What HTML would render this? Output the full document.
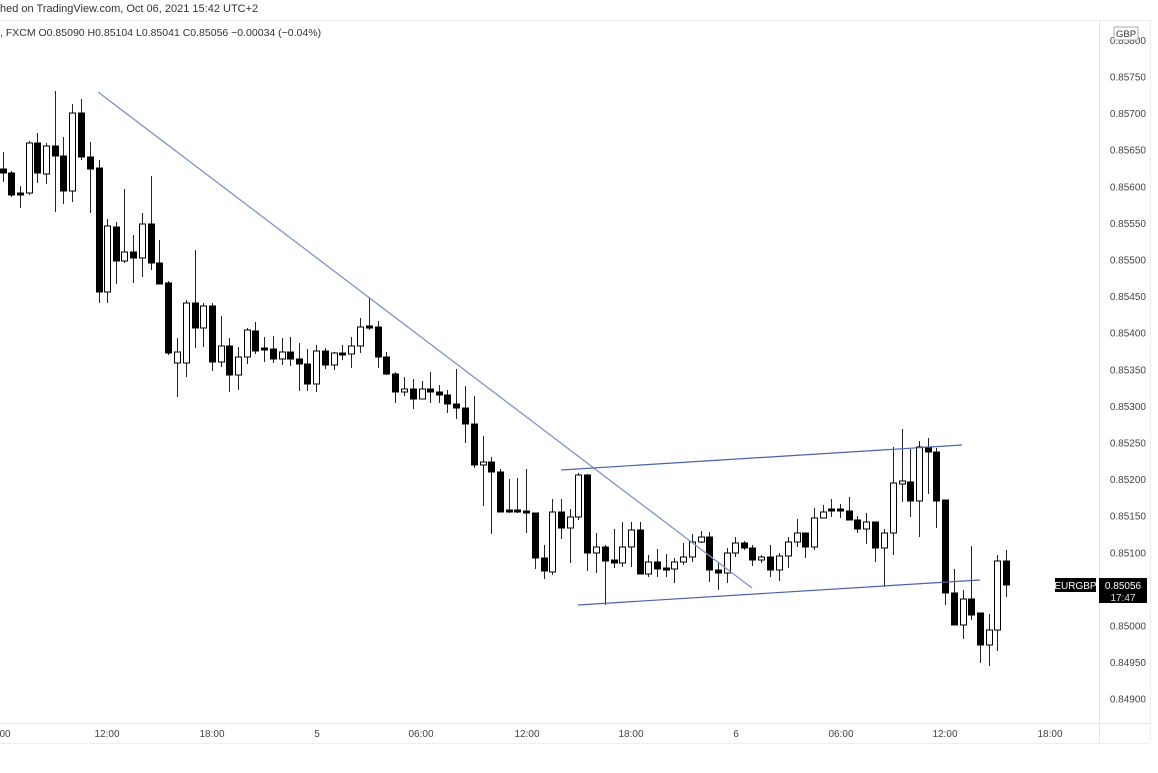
<!DOCTYPE html>
<html><head><meta charset="utf-8"><style>
html,body{margin:0;padding:0;background:#fff;}
body{width:1158px;height:773px;overflow:hidden;position:relative;font-family:"Liberation Sans","DejaVu Sans",sans-serif;}
svg{position:absolute;left:0;top:0;}
text{font-family:"Liberation Sans","DejaVu Sans",sans-serif;}
</style></head><body>
<svg id="s" width="1158" height="773" viewBox="0 0 1158 773" xmlns="http://www.w3.org/2000/svg">
<text x="0" y="12" font-size="11" fill="#333">hed on TradingView.com, Oct 06, 2021 15:42 UTC+2</text>
<line x1="0" y1="20.5" x2="1150" y2="20.5" stroke="#eee"/>
<text x="0" y="36" font-size="10.5" fill="#333">, FXCM  O0.85090  H0.85104  L0.85041  C0.85056  −0.00034 (−0.04%)</text>
<line x1="1099.5" y1="20" x2="1099.5" y2="743" stroke="#e6e6e6"/>
<line x1="1150.5" y1="20" x2="1150.5" y2="743" stroke="#eee"/>
<line x1="0" y1="723.5" x2="1150" y2="723.5" stroke="#e6e6e6"/>
<line x1="0" y1="743.5" x2="1150" y2="743.5" stroke="#eee"/>
<g id="ax" font-size="10" fill="#444"></g>
<g id="c"></g>
<line x1="98" y1="92" x2="752" y2="588" stroke="#7f93c8" stroke-width="1.3"/>
<line x1="561" y1="470" x2="962" y2="445" stroke="#4a62b0" stroke-width="1.2"/>
<line x1="578" y1="605" x2="980" y2="580" stroke="#4a62b0" stroke-width="1.2"/>
<rect x="1114" y="27" width="24" height="13" fill="#fff" stroke="#aaa"/>
<text x="1126" y="37" font-size="9.5" fill="#333" text-anchor="middle">GBP</text>
<rect x="1055" y="578" width="41" height="14" fill="#000"/>
<text x="1075.5" y="589" font-size="10" fill="#fff" text-anchor="middle">EURGBP</text>
<rect x="1099" y="578" width="48" height="25" fill="#000"/>
<text x="1123" y="589" font-size="10" fill="#fff" text-anchor="middle">0.85056</text>
<text x="1123" y="601" font-size="10" fill="#ddd" text-anchor="middle">17:47</text>
</svg>
<script>
var ns="http://www.w3.org/2000/svg";
function el(p,t,a,tx){var e=document.createElementNS(ns,t);for(var k in a)e.setAttribute(k,a[k]);if(tx)e.textContent=tx;p.appendChild(e);}
var ax=document.getElementById('ax');
var prices=["0.85800","0.85750","0.85700","0.85650","0.85600","0.85550","0.85500","0.85450","0.85400","0.85350","0.85300","0.85250","0.85200","0.85150","0.85100","0.85050","0.85000","0.84950","0.84900"];
for(var i=0;i<prices.length;i++){var y=40.4+i*36.6;if(prices[i]=="0.85050")continue;el(ax,'text',{x:1146,y:y+3.5,'text-anchor':'end'},prices[i]);}
var tl=[[5,"00"],[107,"12:00"],[212,"18:00"],[317,"5"],[421,"06:00"],[527,"12:00"],[631,"18:00"],[736,"6"],[841,"06:00"],[945,"12:00"],[1050,"18:00"]];
tl.forEach(function(t){el(ax,'text',{x:t[0],y:737,'text-anchor':'middle'},t[1]);});
// x, wickTop, wickBot, bodyTop, bodyBot, filled
var d=[
[3,152,182,169,173,1],[11,171,197,173,195,1],[20,186,208,193,195,1],[29,141,195,143,193,0],[37,133,183,143,173,1],[46,143,184,146,174,0],
[55,91,212,146,156,1],[63,137,204,156,191,1],[72,104,202,113,191,0],[81,99,160,113,157,1],[90,142,213,157,169,1],[99,160,303,168,292,1],
[107,219,303,226,292,0],[116,222,284,227,261,1],[124,189,263,252,261,0],[133,235,283,252,258,1],[142,213,277,224,258,0],[151,176,270,224,263,1],
[159,240,284,263,284,1],[168,281,355,283,353,1],[177,338,397,352,363,0],[186,300,377,303,363,0],[195,250,348,303,328,1],[203,303,347,306,328,0],
[212,303,371,306,362,1],[221,316,367,346,362,0],[229,338,392,346,375,1],[238,347,390,357,375,0],[247,328,364,330,357,0],[255,322,354,331,351,1],
[264,337,362,348,350,1],[273,336,363,349,359,1],[282,338,365,352,359,0],[290,337,366,352,359,1],[299,343,391,359,364,1],[307,349,391,364,384,1],
[316,345,392,351,384,0],[325,348,369,351,365,1],[334,352,370,353,365,0],[342,345,360,353,355,1],[351,337,368,346,354,0],[360,318,353,327,346,0],
[369,297,330,326,328,1],[378,321,368,327,357,1],[386,352,375,357,374,1],[395,372,403,374,392,1],[404,377,396,389,392,0],[413,379,409,389,399,1],
[422,381,399,389,399,0],[430,372,403,389,392,1],[439,385,403,392,395,1],[447,390,413,395,404,1],[456,369,419,404,408,1],[465,386,443,408,424,1],
[474,396,468,424,465,1],[483,436,506,462,465,0],[491,457,534,462,472,1],[500,469,512,472,512,1],[509,479,513,510,512,1],[517,478,513,510,512,1],
[526,469,533,511,513,1],[535,513,569,513,558,1],[544,545,579,558,571,1],[552,499,575,512,572,0],[561,499,539,512,528,1],[570,509,563,517,528,0],
[578,473,520,475,517,0],[587,474,571,475,553,1],[596,533,573,547,553,0],[605,545,605,547,561,1],[614,529,568,560,563,1],[622,522,567,547,563,0],
[631,522,567,530,547,0],[640,522,574,530,574,1],[648,555,577,562,574,0],[657,549,577,562,569,1],[666,554,577,568,570,1],[674,558,583,562,569,0],
[683,543,565,557,562,0],[692,534,562,542,557,0],[701,531,543,537,542,0],[709,532,582,537,570,1],[718,562,590,570,573,1],[727,548,583,553,573,0],
[735,537,557,543,553,0],[744,541,550,543,548,1],[752,545,566,548,560,1],[761,555,563,557,560,0],[770,545,577,557,570,1],[779,553,581,556,570,0],
[788,537,568,542,556,0],[797,519,547,533,542,0],[805,533,558,533,547,1],[814,508,550,518,547,0],[823,505,518,512,518,0],[831,499,517,509,511,1],
[840,504,518,509,511,1],[849,497,520,511,520,1],[857,516,533,520,529,1],[866,513,544,522,529,0],[875,522,562,522,548,1],[884,529,587,533,548,0],
[893,447,555,483,533,0],[902,429,502,481,484,0],[910,449,517,482,501,1],[919,441,537,447,501,0],[928,438,494,447,452,1],[936,448,528,452,501,1],
[945,500,605,500,593,1],[954,569,625,593,625,1],[963,590,639,599,625,0],[971,546,620,599,615,1],[980,613,663,613,645,1],[989,614,666,630,645,0],
[997,555,651,561,630,0],[1006,550,597,561,585,1]];
var g=document.getElementById('c');
d.forEach(function(c){
 el(g,'line',{x1:c[0]+0.5,y1:c[1],x2:c[0]+0.5,y2:c[2],stroke:'#222','stroke-width':1});
 var h=Math.max(c[4]-c[3],1.5);
 el(g,'rect',{x:c[0]-2.5,y:c[3],width:6,height:h,fill:c[5]?'#000':'#fff',stroke:'#000','stroke-width':1});
});
</script>
</body></html>
